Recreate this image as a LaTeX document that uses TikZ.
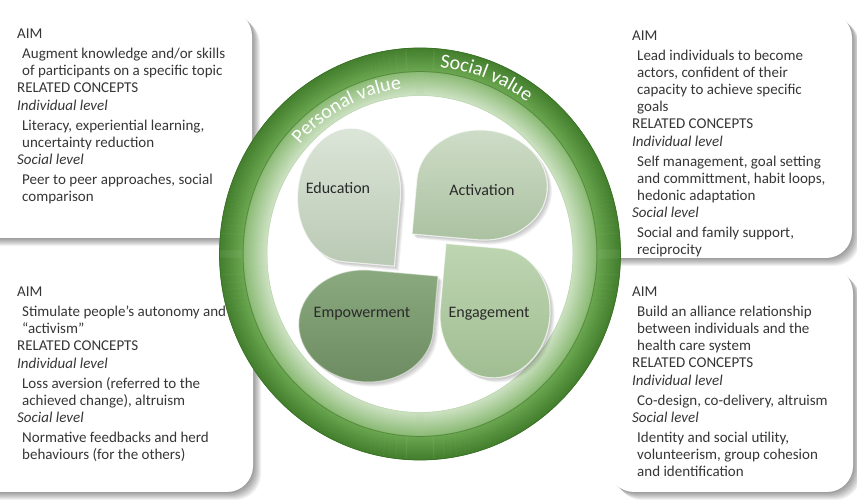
\documentclass[tikz,border=0pt]{standalone}
\usepackage{fontspec}
\setmainfont{Carlito}
\usetikzlibrary{decorations.text}
\definecolor{txt}{HTML}{363636}
\definecolor{petaltxt}{HTML}{2A2A2A}
\definecolor{inA}{HTML}{CDE2C3}
\definecolor{inB}{HTML}{8CBB76}
\definecolor{outA}{HTML}{6CA851}
\definecolor{outB}{HTML}{437F2D}
\definecolor{eduTop}{HTML}{DCE5D9}
\definecolor{eduBot}{HTML}{B9C9B3}
\definecolor{actTop}{HTML}{CFDDC8}
\definecolor{actBot}{HTML}{AAC1A0}
\definecolor{empTop}{HTML}{8CAA80}
\definecolor{empBot}{HTML}{6C8B60}
\definecolor{engTop}{HTML}{BED5B2}
\definecolor{engBot}{HTML}{A0BD91}
\newcommand\indt{\hspace*{5pt}}
\newcommand\cardbox[4]{%
  \foreach \k in {1,...,8}{\fill[black,opacity=0.055,rounded corners=26pt] ({#1+\k},{#2-\k}) rectangle ({#3+\k},{#4-\k});}
  \fill[white,rounded corners=26pt] (#1,#2) rectangle (#3,#4);}
% #1 options, #2 cx, #3 cy, #4 a, #5 b, #6 start angle of the sharp quadrant, #7 rotation
\newcommand\petal[7]{%
  \path[#1,rotate around={#7:(#2,#3)}] ({#2+#4*1.41421*cos(#6+45)},{#3+#5*1.41421*sin(#6+45)}) -- ({#2+#4*cos(#6+90)},{#3+#5*sin(#6+90)}) arc[start angle={#6+90}, end angle={#6+360}, x radius=#4, y radius=#5] -- cycle;}
\begin{document}
\begin{tikzpicture}[x=1pt,y=1pt,
  boxtext/.style={anchor=north west, inner sep=0pt, align=left, text=txt, font=\fontsize{15}{17}\selectfont},
  petallabel/.style={font=\fontsize{16}{18}\selectfont, text=petaltxt, inner sep=0pt},
  ringtext/.style={decorate, decoration={text along path, text align=center, text={|\fontsize{20}{20}\selectfont\color{white}|#1}}}
]
\useasboundingbox (0,0) rectangle (857,500);
\fill[white] (0,0) rectangle (857,500);

% cards
\cardbox{-30}{262}{252}{490}
\cardbox{590}{242}{852}{488}
\cardbox{-30}{8}{253}{235}
\cardbox{608}{8}{853}{233}

% card texts
\node[boxtext] (tltext) at (17,471) {AIM\\[3pt]
\indt Augment knowledge and/or skills\\
\indt of participants on a specific topic\\
RELATED CONCEPTS\\[1pt]
\textit{Individual level}\\[3pt]
\indt Literacy, experiential learning,\\
\indt uncertainty reduction\\
\textit{Social level}\\[3pt]
\indt Peer to peer approaches, social\\
\indt comparison};

\node[boxtext] (trtext) at (632,469) {AIM\\[3pt]
\indt Lead individuals to become\\
\indt actors, confident of their\\
\indt capacity to achieve specific\\
\indt goals\\
RELATED CONCEPTS\\[1pt]
\textit{Individual level}\\[3pt]
\indt Self management, goal setting\\
\indt and committment, habit loops,\\
\indt hedonic adaptation\\
\textit{Social level}\\[3pt]
\indt Social and family support,\\
\indt reciprocity};

\node[boxtext] (bltext) at (17,213) {AIM\\[3pt]
\indt Stimulate people’s autonomy and\\
\indt “activism”\\
RELATED CONCEPTS\\[1pt]
\textit{Individual level}\\[3pt]
\indt Loss aversion (referred to the\\
\indt achieved change), altruism\\
\textit{Social level}\\[3pt]
\indt Normative feedbacks and herd\\
\indt behaviours (for the others)};

\node[boxtext] (brtext) at (632,213) {AIM\\[3pt]
\indt Build an alliance relationship\\
\indt between individuals and the\\
\indt health care system\\
RELATED CONCEPTS\\[1pt]
\textit{Individual level}\\[3pt]
\indt Co-design, co-delivery, altruism\\
\textit{Social level}\\[3pt]
\indt Identity and social utility,\\
\indt volunteerism, group cohesion\\
\indt and identification};

% ring (slightly elliptical, as in the reference)
\coordinate (ctr) at (420,246);
\fill[inB!60!inA, even odd rule] (ctr) ellipse[x radius=200.5, y radius=206] (ctr) ellipse[x radius=153.5, y radius=159];
\foreach \i in {0,...,23}{
  \pgfmathsetmacro\p{100*\i/23}
  \draw[line width=1.4pt, color=inB!\p!inA] (ctr) ellipse[x radius={153.5+\i}, y radius={159+\i}];
}
\foreach \i in {0,...,23}{
  \pgfmathsetmacro\p{100*\i/23}
  \draw[line width=1.4pt, color=outB!\p!outA] (ctr) ellipse[x radius={177+\i}, y radius={182.5+\i}];
}
\draw[line width=0.7pt, color=outB!90!black] (ctr) ellipse[x radius=200.5, y radius=206];
\draw[line width=0.6pt, color=outA!80!black] (ctr) ellipse[x radius=177, y radius=182.5];
\draw[line width=0.5pt, color=inA!70!inB] (ctr) ellipse[x radius=153, y radius=158.5];

\path[ringtext={Personal value}] (ctr) ++(150:{160} and {166}) arc[start angle=150, end angle=85, x radius=160, y radius=166];
\path[ringtext={Social value}] (ctr) ++(101:{182} and {188}) arc[start angle=101, end angle=37, x radius=182, y radius=188];

% petals: shadows
\foreach \k in {1,...,5}{
  \petal{fill=black,opacity=0.05,shift={({\k*0.9},{-\k*0.9})}}{349}{305}{51.5}{67}{270}{-5}
  \petal{fill=black,opacity=0.05,shift={({\k*0.9},{-\k*0.9})}}{482}{315}{65.5}{55}{180}{-5}
  \petal{fill=black,opacity=0.05,shift={({\k*0.9},{-\k*0.9})}}{366}{174}{67.5}{56}{0}{-5}
  \petal{fill=black,opacity=0.05,shift={({\k*0.9},{-\k*0.9})}}{495}{187}{55}{65}{90}{-5}
}
% petals
\petal{top color=eduTop,bottom color=eduBot,draw=white,draw opacity=0.7,line width=1.2pt}{349}{305}{51.5}{67}{270}{-5}
\petal{top color=actTop,bottom color=actBot,draw=white,draw opacity=0.7,line width=1.2pt}{482}{315}{65.5}{55}{180}{-5}
\petal{top color=empTop,bottom color=empBot,draw=white,draw opacity=0.5,line width=1.2pt}{366}{174}{67.5}{56}{0}{-5}
\petal{top color=engTop,bottom color=engBot,draw=white,draw opacity=0.7,line width=1.2pt}{495}{187}{55}{65}{90}{-5}

\node[petallabel] (edu) at (338,312) {Education};
\node[petallabel] (act) at (482,310) {Activation};
\node[petallabel] (emp) at (362,186) {Empowerment};
\node[petallabel] (eng) at (489,186) {Engagement};
\end{tikzpicture}
\end{document}
